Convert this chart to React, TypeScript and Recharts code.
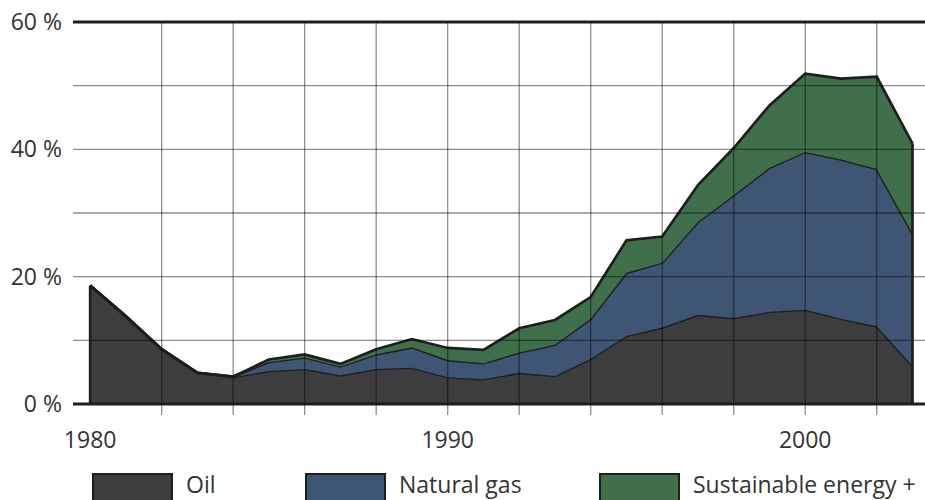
import React from 'react';
import { AreaChart, Area, XAxis, YAxis, ReferenceLine } from 'recharts';

const years = [
  1980, 1981, 1982, 1983, 1984, 1985, 1986, 1987, 1988, 1989, 1990, 1991,
  1992, 1993, 1994, 1995, 1996, 1997, 1998, 1999, 2000, 2001, 2002, 2003,
];
const oil = [
  18.6, 13.8, 8.6, 4.9, 4.2, 5.2, 5.5, 4.5, 5.5, 5.7, 4.2, 3.9,
  4.9, 4.4, 7.1, 10.7, 12.0, 14.0, 13.5, 14.5, 14.8, 13.4, 12.2, 6.0,
];
const naturalGas = [
  0, 0, 0, 0, 0.1, 1.4, 1.8, 1.4, 2.3, 3.2, 2.7, 2.5,
  3.2, 4.9, 6.3, 9.9, 10.2, 14.6, 19.3, 22.6, 24.8, 25.0, 24.7, 20.8,
];
const sustainable = [
  0, 0, 0, 0, 0, 0.4, 0.5, 0.4, 0.8, 1.3, 1.9, 2.1,
  3.8, 3.9, 3.4, 5.1, 4.1, 5.8, 7.4, 9.8, 12.3, 12.7, 14.5, 14.1,
];
const yTicks = [0, 20, 40, 60];
const hGrid = [10, 20, 30, 40, 50];
const xTicks = [1980, 1982, 1984, 1986, 1988, 1990, 1992, 1994, 1996, 1998, 2000, 2002];
const xLabels = [1980, 1990, 2000];

const COLORS = {
  oil: '#3d3d40',
  naturalGas: '#3e5674',
  sustainable: '#40704b',
  outline: '#1e1e1e',
};

const FONT = '"Open Sans", sans-serif';

const data = years.map((year, i) => ({
  year,
  oil: oil[i],
  naturalGas: naturalGas[i],
  sustainable: sustainable[i],
}));

const first = data[0];
const last = data[data.length - 1];
const firstTotal = first.oil + first.naturalGas + first.sustainable;
const lastTotal = last.oil + last.naturalGas + last.sustainable;

// tick marks hang below the axis, labels only on decades, nothing at 1980
const YearTick = ({ x, y, payload }: { x?: number; y?: number; payload?: { value: number } }) => {
  const v = payload ? payload.value : 0;
  return (
    <g>
      {v !== years[0] && (
        <line x1={x} x2={x} y1={y} y2={(y || 0) + 11} stroke="#000" strokeOpacity={0.45} strokeWidth={1.3} />
      )}
      {xLabels.includes(v) && (
        <text x={x} y={(y || 0) + 44} textAnchor="middle" fontSize={23} fontFamily={FONT} fill="#333">
          {v}
        </text>
      )}
    </g>
  );
};

const legendItems = [
  { label: 'Oil', color: COLORS.oil, left: 92 },
  { label: 'Natural gas', color: COLORS.naturalGas, left: 305 },
  { label: 'Sustainable energy +', color: COLORS.sustainable, left: 599 },
];

export default function App() {
  return (
    <div style={{ position: 'fixed', left: 0, top: 0, width: 925, height: 500, overflow: 'hidden', background: '#fff' }}>
      <AreaChart width={925} height={500} data={data} margin={{ top: 22, right: 0, left: 0, bottom: 0 }}>
        <XAxis
          dataKey="year"
          type="number"
          domain={[1979.52, 2003.35]}
          allowDataOverflow
          ticks={xTicks}
          interval={0}
          height={96}
          tickSize={0}
          tickMargin={0}
          tickLine={false}
          tick={<YearTick />}
          axisLine={{ stroke: COLORS.outline, strokeWidth: 3 }}
        />
        <YAxis
          domain={[0, 60]}
          ticks={yTicks}
          width={73}
          tickSize={0}
          tickMargin={11}
          axisLine={false}
          tickLine={false}
          tickFormatter={(v) => `${v} %`}
          tick={{ fontSize: 23, fontFamily: FONT, fill: '#333' }}
        />
        <Area
          type="linear"
          dataKey="oil"
          stackId="1"
          stroke={COLORS.outline}
          strokeWidth={2.7}
          fill={COLORS.oil}
          fillOpacity={1}
          isAnimationActive={false}
        />
        <Area
          type="linear"
          dataKey="naturalGas"
          stackId="1"
          stroke={COLORS.outline}
          strokeWidth={2.7}
          fill={COLORS.naturalGas}
          fillOpacity={1}
          isAnimationActive={false}
        />
        <Area
          type="linear"
          dataKey="sustainable"
          stackId="1"
          stroke={COLORS.outline}
          strokeWidth={2.7}
          fill={COLORS.sustainable}
          fillOpacity={1}
          isAnimationActive={false}
        />
        {hGrid.map((v) => (
          <ReferenceLine key={`h${v}`} y={v} stroke="#000" strokeOpacity={0.45} strokeWidth={1.3} />
        ))}
        {xTicks.filter((v) => v !== years[0]).map((v) => (
          <ReferenceLine key={`v${v}`} x={v} stroke="#000" strokeOpacity={0.45} strokeWidth={1.3} />
        ))}
        <ReferenceLine y={60} stroke={COLORS.outline} strokeWidth={3} />
        <ReferenceLine
          segment={[{ x: first.year, y: 0 }, { x: first.year, y: firstTotal }]}
          stroke={COLORS.outline}
          strokeWidth={2.7}
        />
        <ReferenceLine
          segment={[{ x: last.year, y: 0 }, { x: last.year, y: lastTotal }]}
          stroke={COLORS.outline}
          strokeWidth={2.7}
        />
      </AreaChart>
      {legendItems.map((item) => (
        <div key={item.label} style={{ position: 'absolute', left: item.left, top: 473, display: 'flex', alignItems: 'flex-start' }}>
          <div
            style={{
              width: 77,
              height: 40,
              background: item.color,
              border: `2.5px solid ${COLORS.outline}`,
            }}
          />
          <span
            style={{
              marginLeft: 13,
              marginTop: 0,
              fontFamily: FONT,
              fontSize: 23,
              lineHeight: '23px',
              color: '#333',
              whiteSpace: 'nowrap',
            }}
          >
            {item.label}
          </span>
        </div>
      ))}
    </div>
  );
}
